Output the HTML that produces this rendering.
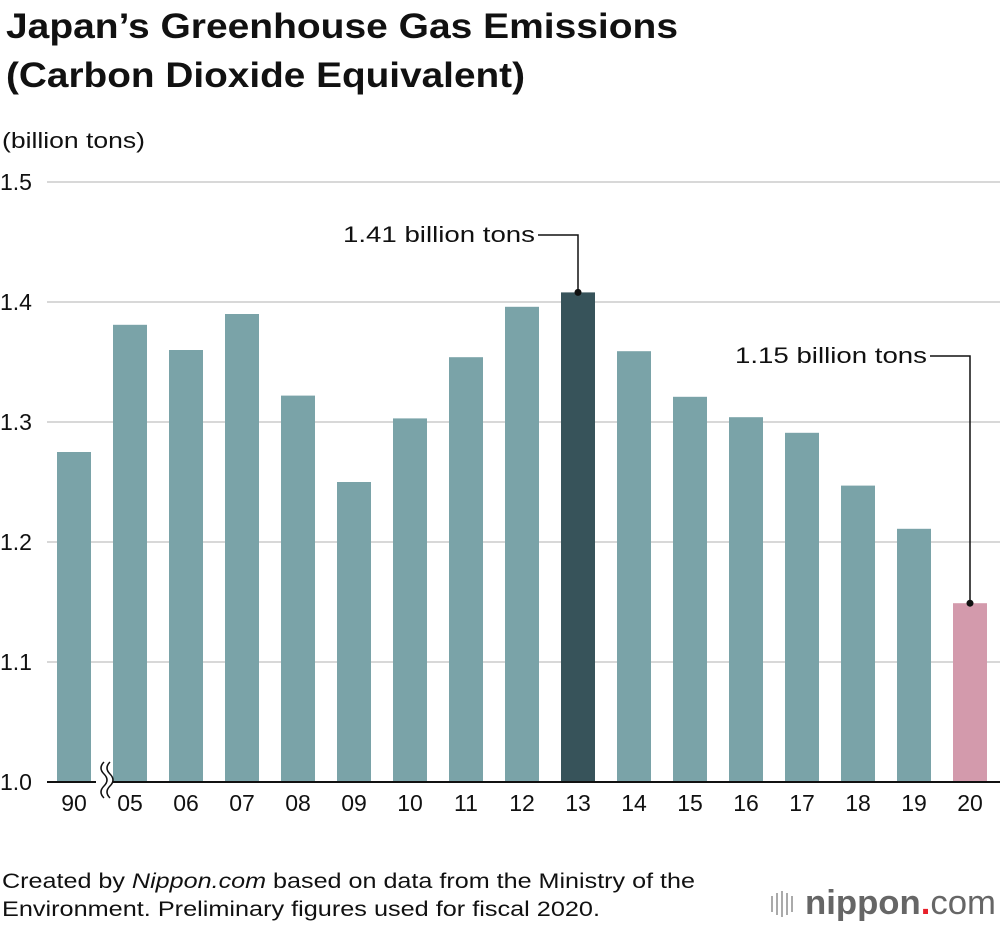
<!DOCTYPE html>
<html><head><meta charset="utf-8"><style>
body{margin:0;background:#fff;font-family:"Liberation Sans",Arial,sans-serif;}
svg text{font-family:"Liberation Sans",Arial,sans-serif;}
</style></head><body>
<svg id="c" width="1000" height="926">
<text x="6" y="38" font-size="35" font-weight="bold" fill="#111" textLength="672" lengthAdjust="spacingAndGlyphs">Japan’s Greenhouse Gas Emissions</text>
<text x="6" y="87" font-size="35" font-weight="bold" fill="#111" textLength="519" lengthAdjust="spacingAndGlyphs">(Carbon Dioxide Equivalent)</text>
<text x="2" y="148" font-size="22" fill="#111" textLength="143" lengthAdjust="spacingAndGlyphs">(billion tons)</text>
<g id="grid"></g><g id="bars"></g><g id="xl"></g>
<line x1="47" y1="782" x2="1000" y2="782" stroke="#111" stroke-width="2"/>
<g>
<rect x="96" y="760" width="16" height="40" fill="#fff"/>
<path d="M104 762 q-6 6 0 12 q6 6 0 12 q-6 6 0 12" fill="none" stroke="#111" stroke-width="1.5"/>
<path d="M110 762 q-6 6 0 12 q6 6 0 12 q-6 6 0 12" fill="none" stroke="#111" stroke-width="1.5"/>
</g>
<g id="ann"></g>
<text x="2" y="888" font-size="21" fill="#111" textLength="693" lengthAdjust="spacingAndGlyphs">Created by <tspan font-style="italic">Nippon.com</tspan> based on data from the Ministry of the</text>
<text x="2" y="916" font-size="21" fill="#111" textLength="598" lengthAdjust="spacingAndGlyphs">Environment. Preliminary figures used for fiscal 2020.</text>
<g>
<g fill="#aaa"><rect x="771" y="896" width="2" height="16"/><rect x="776" y="893" width="2" height="22"/><rect x="781" y="891" width="2" height="26"/><rect x="786" y="893" width="2" height="22"/><rect x="791" y="896" width="2" height="16"/></g>
<text x="805" y="914" font-size="34" fill="#666" font-weight="bold" textLength="191" lengthAdjust="spacingAndGlyphs">nippon<tspan fill="#e8202a">.</tspan><tspan font-weight="normal">com</tspan></text>
</g>
</svg>
<script>
const categories=["90","05","06","07","08","09","10","11","12","13","14","15","16","17","18","19","20"];
const values=[1.275,1.381,1.360,1.390,1.322,1.250,1.303,1.354,1.396,1.408,1.359,1.321,1.304,1.291,1.247,1.211,1.149];
const yTicks=[1.0,1.1,1.2,1.3,1.4,1.5];
const tickLabels=["1.0","1.1","1.2","1.3","1.4","1.5"];
const annotations=[{i:9,text:"1.41 billion tons",ty:235},{i:16,text:"1.15 billion tons",ty:356}];
const NS="http://www.w3.org/2000/svg";
const y=v=>782-(v-1.0)*1200;
const x=i=>74+i*56;
function mk(tag,attrs,parent){const e=document.createElementNS(NS,tag);for(const k in attrs)e.setAttribute(k,attrs[k]);document.getElementById(parent).appendChild(e);return e;}
yTicks.forEach((t,k)=>{
 if(k>0){const l=mk("line",{x1:47,x2:1000,y1:y(t),y2:y(t),stroke:"#ccc","stroke-width":1.5},"grid");
 
 }
 const tx=mk("text",{x:0,y:y(t)+8,"font-size":23,fill:"#111"},"grid");tx.textContent=tickLabels[k];
 
 
});
values.forEach((v,i)=>{
 const fill=i===9?"#37535a":(i===16?"#d39aac":"#7aa3a8");
 const r=mk("rect",{x:x(i)-17,y:y(v),width:34,height:782-y(v),fill:fill},"bars");
 
 
 const t=mk("text",{x:x(i),y:811,"font-size":23,fill:"#111","text-anchor":"middle"},"xl");t.textContent=categories[i];
 
 
});
annotations.forEach(a=>{
 const bx=x(a.i),by=y(values[a.i]);
 const p=mk("path",{d:`M${bx-40} ${a.ty} H${bx} V${by}`,fill:"none",stroke:"#111","stroke-width":1.5},"ann");
 
 
 const c=mk("circle",{cx:bx,cy:by,r:3.5,fill:"#111"},"ann");
 
 
 const t=mk("text",{x:bx-235,y:a.ty+7,"font-size":22,fill:"#111",textLength:192,lengthAdjust:"spacingAndGlyphs"},"ann");t.textContent=a.text;
 
 
});
</script>
</body></html>
